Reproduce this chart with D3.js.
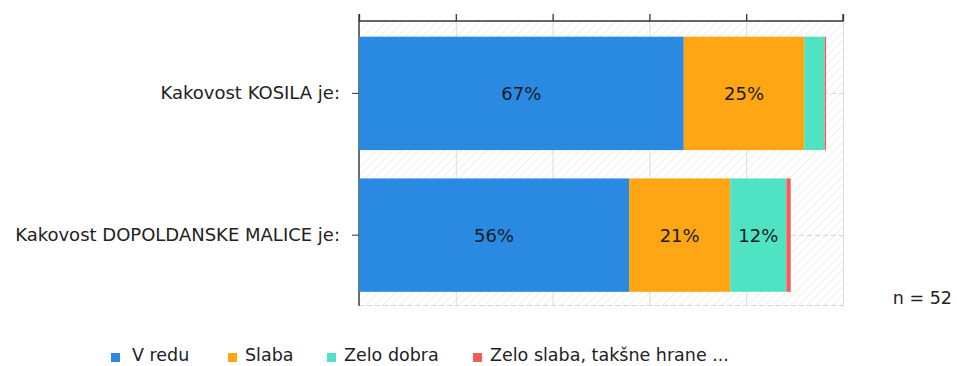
<!DOCTYPE html>
<html>
<head>
<meta charset="utf-8">
<script src="https://cdn.jsdelivr.net/npm/d3@7"></script>
<style>
  body { margin: 0; background: #fff; }
  svg { display: block; font-family: "DejaVu Sans", Verdana, sans-serif; }
</style>
</head>
<body>
<svg id="chart" width="957" height="366"></svg>
<script>
const categories = ["Kakovost KOSILA je:", "Kakovost DOPOLDANSKE MALICE je:"];
const seriesNames = ["V redu", "Slaba", "Zelo dobra", "Zelo slaba, takšne hrane ..."];
const seriesColors = ["#2a8ae2", "#fea614", "#4fe3c4", "#f25c5c"];
const vRedu = [67.1, 55.8];
const slaba = [24.9, 20.9];
const zeloDobra = [4.2, 11.6];
const zeloSlaba = [0.3, 0.9];
const xTicks = [0, 20, 40, 60, 80, 100];
const nLabel = "n = 52";

const seriesValues = [vRedu, slaba, zeloDobra, zeloSlaba];
const FS = 18;

const svg = d3.select("#chart");
const m = { left: 359, right: 843, top: 21, bottom: 306 };

const x = d3.scaleLinear().domain([0, 100]).range([m.left, m.right]);
const y = d3.scaleBand().domain(categories).range([m.top + 1.5, m.bottom]).paddingInner(0.2).paddingOuter(0.1);

// hatch pattern
const defs = svg.append("defs");
const pat = defs.append("pattern").attr("id", "hatch").attr("patternUnits", "userSpaceOnUse")
  .attr("width", 6).attr("height", 6).attr("patternTransform", "rotate(45)");
pat.append("rect").attr("width", 6).attr("height", 6).attr("fill", "#fff");
pat.append("line").attr("x1", 0).attr("y1", 0).attr("x2", 0).attr("y2", 6)
  .attr("stroke", "#efefef").attr("stroke-width", 2);

svg.append("rect").attr("x", m.left).attr("y", m.top)
  .attr("width", m.right - m.left).attr("height", m.bottom - m.top).attr("fill", "url(#hatch)");

// vertical gridlines
svg.append("g").selectAll("line").data(xTicks).join("line")
  .attr("x1", d => x(d) + 0.5).attr("x2", d => x(d) + 0.5)
  .attr("y1", m.top).attr("y2", m.bottom)
  .attr("stroke", "#dcdcdc").attr("stroke-width", 1);

// horizontal dashed gridlines at category centers and bottom
const hLines = categories.map(c => y(c) + y.bandwidth() / 2).concat([m.bottom - 1]);
svg.append("g").selectAll("line").data(hLines).join("line")
  .attr("x1", m.left).attr("x2", m.right)
  .attr("y1", d => Math.round(d) + 0.5).attr("y2", d => Math.round(d) + 0.5)
  .attr("stroke", "#d6d6d6").attr("stroke-dasharray", "5,3");

// stacked data
const rows = categories.map((c, i) => {
  const o = { cat: c };
  seriesNames.forEach((s, j) => o[s] = seriesValues[j][i]);
  return o;
});
const stack = d3.stack().keys(seriesNames)(rows);

// left axis (drawn under bars)
const leftAxis = svg.append("g").attr("transform", `translate(${m.left},0)`)
  .call(d3.axisLeft(y).tickSize(7).tickPadding(12).tickSizeOuter(0));
leftAxis.select(".domain").attr("d", `M0,${m.top}V${m.bottom}`)
  .attr("stroke", "#444").attr("stroke-width", 1.5);
leftAxis.selectAll(".tick line").attr("stroke", "#333");
leftAxis.selectAll("text").attr("font-size", FS).attr("fill", "#222")
  .attr("font-family", "\"DejaVu Sans\", Verdana, sans-serif");

const layers = svg.append("g").selectAll("g").data(stack).join("g")
  .attr("fill", (d, i) => seriesColors[i]);
layers.selectAll("rect").data(d => d).join("rect")
  .attr("x", d => x(d[0]))
  .attr("y", d => y(d.data.cat))
  .attr("width", d => x(d[1]) - x(d[0]))
  .attr("height", y.bandwidth());

// value labels
const labG = svg.append("g");
stack.forEach(layer => {
  layer.forEach(d => {
    const w = x(d[1]) - x(d[0]);
    if (w > 35) {
      labG.append("text")
        .attr("x", (x(d[0]) + x(d[1])) / 2)
        .attr("y", y(d.data.cat) + y.bandwidth() / 2)
        .attr("text-anchor", "middle").attr("dominant-baseline", "central")
        .attr("font-size", FS).attr("fill", "#1a1a1a")
        .text(Math.round(d[1] - d[0]) + "%");
    }
  });
});

// top axis
const topAxis = svg.append("g").attr("transform", `translate(0,${m.top})`)
  .call(d3.axisTop(x).tickValues(xTicks).tickSize(7).tickFormat(""));
topAxis.selectAll("path,line").attr("stroke", "#333").attr("stroke-width", 1.3);
topAxis.select(".domain").attr("d", `M${m.left},-7V0H${m.right}V-7`);

// n label
svg.append("text").attr("x", 952).attr("y", 304).attr("text-anchor", "end")
  .attr("font-size", 17.5).attr("fill", "#222").text(nLabel);

// legend
const legendSq = [111, 228, 327, 473];
const legendTx = [132, 245, 344, 490];
const lg = svg.append("g").selectAll("g").data(seriesNames).join("g");
lg.append("rect").attr("x", (d, i) => legendSq[i]).attr("y", 353)
  .attr("width", 9).attr("height", 9).attr("fill", (d, i) => seriesColors[i]);
lg.append("text").attr("x", (d, i) => legendTx[i]).attr("y", 361)
  .attr("font-size", 17.5).attr("fill", "#222").text(d => d);
</script>
</body>
</html>
